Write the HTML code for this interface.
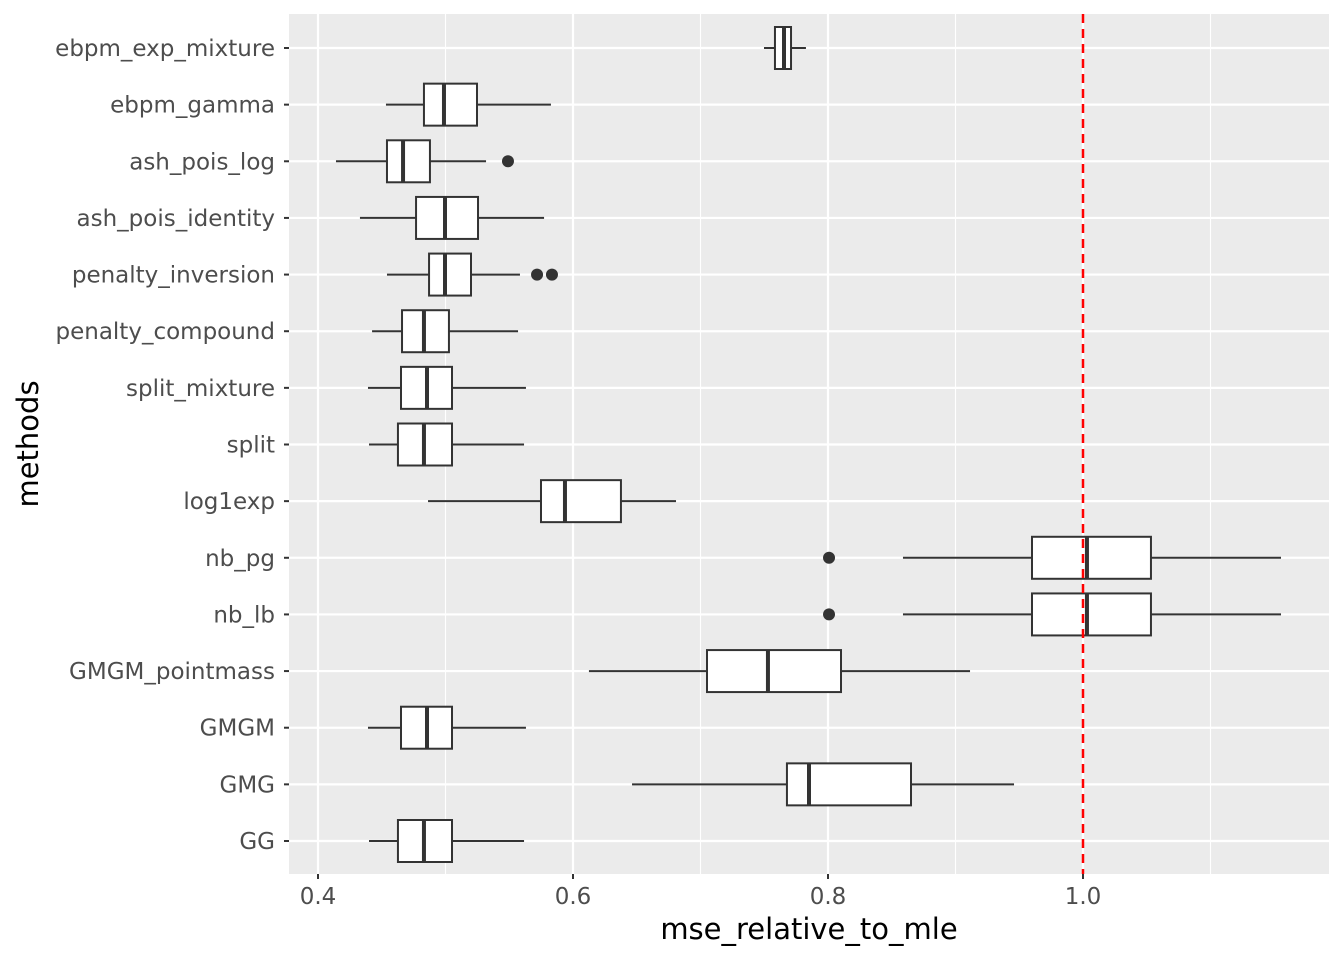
<!DOCTYPE html>
<html><head><meta charset="utf-8"><style>
body{margin:0;background:#fff;}
svg{display:block;font-family:"DejaVu Sans","Liberation Sans",sans-serif;}
</style></head><body>
<svg id="chart" width="1344" height="960" xmlns="http://www.w3.org/2000/svg">
<rect x="289" y="14" width="1040" height="860" fill="#ebebeb"/>
<g id="grid"></g><g id="marks"></g><g id="axes"></g>
<text x="809" y="939" font-size="29" text-anchor="middle" fill="#000">mse_relative_to_mle</text>
<text transform="translate(38,444) rotate(-90)" font-size="29" text-anchor="middle" fill="#000">methods</text>
</svg>
<script>
const methods=["ebpm_exp_mixture","ebpm_gamma","ash_pois_log","ash_pois_identity","penalty_inversion","penalty_compound","split_mixture","split","log1exp","nb_pg","nb_lb","GMGM_pointmass","GMGM","GMG","GG"];
const lowWhisker=[0.7498,0.4533,0.4141,0.4329,0.4541,0.4424,0.4392,0.44,0.4863,0.8588,0.8588,0.6125,0.4392,0.6463,0.44];
const q1=[0.7584,0.4831,0.4541,0.4769,0.4871,0.4659,0.4651,0.4627,0.5749,0.96,0.96,0.7051,0.4651,0.7678,0.4627];
const medians=[0.7655,0.4988,0.4667,0.4996,0.4996,0.4831,0.4855,0.4831,0.5937,1.0031,1.0031,0.7529,0.4855,0.7851,0.4831];
const q3=[0.771,0.5247,0.4878,0.5255,0.52,0.5027,0.5051,0.5051,0.6376,1.0533,1.0533,0.8102,0.5051,0.8651,0.5051];
const highWhisker=[0.7827,0.5827,0.5318,0.5773,0.5584,0.5569,0.5631,0.5616,0.6808,1.1553,1.1553,0.9114,0.5631,0.9459,0.5616];
const outliers=[[],[],[0.549],[],[0.5718,0.5835],[],[],[],[],[0.8008],[0.8008],[],[],[],[]];
const majorTicks=[0.4,0.6,0.8,1.0];
const tickLabels=["0.4","0.6","0.8","1.0"];
const minorTicks=[0.5,0.7,0.9,1.1];
const refLine=1.0;
const NS="http://www.w3.org/2000/svg";
const x=v=>318+(v-0.4)*1275;
const y=i=>48+i*(793/14);
function mk(p,tag,a){const e=document.createElementNS(NS,tag);for(const k in a)e.setAttribute(k,a[k]);p.appendChild(e);return e;}
const grid=document.getElementById('grid'),marks=document.getElementById('marks'),axes=document.getElementById('axes');
minorTicks.forEach(v=>{const l=mk(grid,'line',{x1:x(v),x2:x(v),y1:14,y2:874,stroke:'#fff','stroke-width':1.1});

});
majorTicks.forEach((v,i)=>{const l=mk(grid,'line',{x1:x(v),x2:x(v),y1:14,y2:874,stroke:'#fff','stroke-width':2.2});


const t=mk(axes,'line',{x1:x(v),x2:x(v),y1:874,y2:879,stroke:'#333','stroke-width':2});


const tx=mk(axes,'text',{x:x(v),y:904,'font-size':23,'text-anchor':'middle',fill:'#4d4d4d'});tx.textContent=tickLabels[i];

});
methods.forEach((m,i)=>{const yy=y(i);
const g=mk(grid,'line',{x1:289,x2:1329,y1:yy,y2:yy,stroke:'#fff','stroke-width':2.2});


const t=mk(axes,'line',{x1:284,x2:289,y1:yy,y2:yy,stroke:'#333','stroke-width':2});


const tx=mk(axes,'text',{x:275,y:yy+8,'font-size':23,'text-anchor':'end',fill:'#4d4d4d'});tx.textContent=m;


const w=mk(marks,'line',{x1:x(lowWhisker[i]),x2:x(highWhisker[i]),y1:yy,y2:yy,stroke:'#333','stroke-width':2});


const b=mk(marks,'rect',{x:x(q1[i]),y:yy-21,width:x(q3[i])-x(q1[i]),height:42,fill:'#fff',stroke:'#333','stroke-width':2});


const md=mk(marks,'line',{x1:x(medians[i]),x2:x(medians[i]),y1:yy-21,y2:yy+21,stroke:'#333','stroke-width':4});


outliers[i].forEach(o=>{const c=mk(marks,'circle',{cx:x(o),cy:yy,r:6,fill:'#333'});

});});
const r=mk(marks,'line',{x1:x(refLine),x2:x(refLine),y1:14,y2:874,stroke:'#ff0000','stroke-width':2.5,'stroke-dasharray':'9,6'});


</script>
</body></html>
